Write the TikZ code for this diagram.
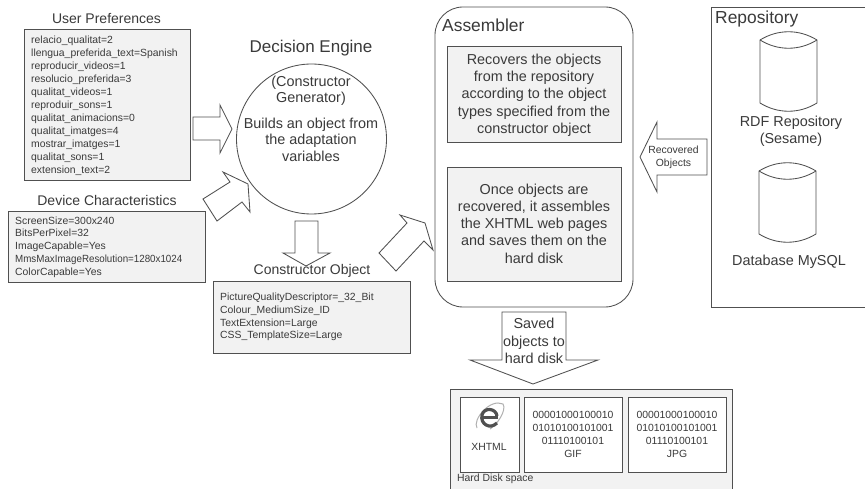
\documentclass[tikz,border=0pt]{standalone}
\usepackage{fontspec}
\setmainfont{Liberation Sans}
\definecolor{ln}{HTML}{505050}
\definecolor{tx}{HTML}{3A3A3A}
\definecolor{pane}{HTML}{F2F2F2}
\tikzset{
  x=1pt,y=-1pt,
  line/.style={draw=ln,line width=0.85pt,line join=miter},
  pnl/.style={line,fill=pane},
  plainbox/.style={line,fill=white},
  small/.style={font=\fontsize{10.4}{12.9}\selectfont,text=tx,inner sep=0pt,align=left,anchor=north west},
  smallc/.style={font=\fontsize{10.4}{12.9}\selectfont,text=tx,inner sep=0pt,align=center},
  body/.style={font=\fontsize{14.4}{17.3}\selectfont,text=tx,inner sep=0pt,align=center},
  head/.style={font=\fontsize{14}{17}\selectfont,text=tx,inner sep=0pt},
  big/.style={font=\fontsize{17.4}{21}\selectfont,text=tx,inner sep=0pt},
}
\begin{document}
\begin{tikzpicture}
\useasboundingbox (0,0) rectangle (865,489);
\fill[white] (0,0) rectangle (865,489);
% user preferences
\node[head] (tUser) at (106.5,19) {User Preferences};
\path[pnl] (24,29) rectangle (190,180);
\node[small,font=\fontsize{10.4}{13}\selectfont] (user) at (31,35.3) {relacio\_qualitat=2\\llengua\_preferida\_text=Spanish\\reproducir\_videos=1\\resolucio\_preferida=3\\qualitat\_videos=1\\reproduir\_sons=1\\qualitat\_animacions=0\\qualitat\_imatges=4\\mostrar\_imatges=1\\qualitat\_sons=1\\extension\_text=2};
% device
\node[head] (tDev) at (107,200.5) {Device Characteristics};
\path[pnl] (8,211) rectangle (205,282);
\node[small] (dev) at (15,216.3) {ScreenSize=300x240\\BitsPerPixel=32\\ImageCapable=Yes\\\scalebox{0.94}[1]{MmsMaxImageResolution=1280x1024}\\ColorCapable=Yes};
% decision engine
\node[font=\fontsize{17}{20}\selectfont,text=tx,inner sep=0pt] (tDE) at (311,48.5) {Decision Engine};
\node[line,circle,minimum size=150pt,inner sep=0pt] (eng) at (311.5,139) {};
\node[body,font=\fontsize{14.4}{15.8}\selectfont] (eng1) at (311,91) {(Constructor\\Generator)};
\node[body,font=\fontsize{14.4}{16.5}\selectfont] (eng2) at (311,139.5) {Builds an object from\\the adaptation\\variables};
% arrows into the engine
\draw[line] (193,117) -- (220,117) -- (220,105) -- (232,129) -- (220,153) -- (220,140) -- (193,140) -- cycle;
\draw[line] (203,199) -- (230,182) -- (223,172) -- (248,184) -- (250,212) -- (242,202) -- (217,221) -- cycle;
% down arrow
\draw[line] (295,221) -- (318,221) -- (318,253) -- (330,253) -- (306,266) -- (283,253) -- (295,253) -- cycle;
% constructor object
\path[pnl] (213,281) rectangle (410,353);
\node[head] (tCO) at (312,271) {Constructor Object};
\node[small] (co) at (220,292.5) {PictureQualityDescriptor=\_32\_Bit\\Colour\_MediumSize\_ID\\TextExtension=Large\\CSS\_TemplateSize=Large};
% arrow to assembler
\draw[line] (379,253) -- (407,223) -- (400,215) -- (425,223) -- (433,250) -- (424,241) -- (396,271) -- cycle;
% assembler
\draw[line,fill=white,rounded corners=28pt] (435,7) rectangle (633,307);
\node[big,anchor=west] (tAsm) at (442,25) {Assembler};
\path[pnl] (447,46) rectangle (621,142);
\node[body] (a1) at (534,95) {Recovers the objects\\from the repository\\according to the object\\types specified from the\\constructor object};
\path[pnl] (447,167) rectangle (621,281);
\node[body] (a2) at (534,223.5) {Once objects are\\recovered, it assembles\\the XHTML web pages\\and saves them on the\\hard disk};
% recovered arrow
\draw[line] (707,139) -- (657,139) -- (657,122) -- (640,157) -- (657,192) -- (657,175) -- (707,175) -- cycle;
\node[smallc,font=\fontsize{10.4}{13.2}\selectfont] (rec) at (673.5,157) {Recovered\\Objects};
% repository
\path[line] (711,7) -- (866,7) -- (866,307) -- (711,307) -- cycle;
\node[big,anchor=west] (tRep) at (715,19.5) {Repository};
\draw[line] (760,40) .. controls (778,29) and (799,29) .. (817,40) -- (817,103) .. controls (799,114) and (778,114) .. (760,103) -- cycle;
\draw[line] (760,40) .. controls (778,51) and (799,51) .. (817,40);
\node[body] (rdf) at (791,131) {RDF Repository\\(Sesame)};
\draw[line] (759,171) .. controls (777,160) and (798,160) .. (816,171) -- (816,234) .. controls (798,245) and (777,245) .. (759,234) -- cycle;
\draw[line] (759,171) .. controls (777,182) and (798,182) .. (816,171);
\node[body] (db) at (789,262) {Database MySQL};
% saved arrow
\draw[line] (502,312) -- (566,312) -- (566,360) -- (598,360) -- (533,384) -- (470,360) -- (502,360) -- cycle;
\node[body] (sav) at (534,341) {Saved\\objects to\\hard disk};
% hard disk
\path[pnl] (450,389) rectangle (732,490);
\path[plainbox] (460,397) rectangle (519,472);
\path[plainbox] (524,397) rectangle (622,472);
\path[plainbox] (628,397) rectangle (726,472);
% ie icon
\draw[draw=ln!45,line width=1pt] (477,428) .. controls (472,420) and (490,398) .. (503,404) .. controls (507,410) and (497,425) .. (490,429);
\draw[draw=ln,line width=3pt] (498,417) -- (483,417);
\draw[draw=ln,line width=3.2pt] (497,416) .. controls (496,408) and (484,407) .. (482,415) .. controls (480,424) and (490,430) .. (497,423);
\node[smallc] (xh) at (489,447) {XHTML};
\node[smallc] (gif) at (573,434.5) {00001000100010\\01010100101001\\01110100101\\GIF};
\node[smallc] (jpg) at (677,434.5) {00001000100010\\01010100101001\\01110100101\\JPG};
\node[small,anchor=west] (hd) at (457,479) {Hard Disk space};
\end{tikzpicture}
\end{document}
